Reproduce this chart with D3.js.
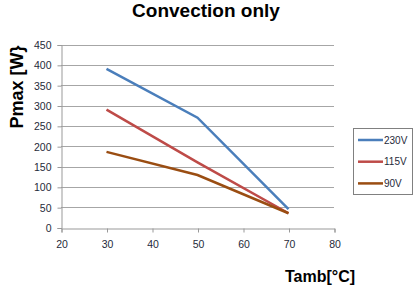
<!DOCTYPE html>
<html lang="en">
<head>
<meta charset="utf-8">
<title>Convection only</title>
<script src="https://cdn.jsdelivr.net/npm/d3@7"></script>
<style>
  body { margin: 0; background: #fff; }
  svg { display: block; }
</style>
</head>
<body>
<script>
// data
var temps = [30, 50, 70];
var p230 = [390, 270, 45];
var p115 = [290, 160, 35];
var p90 = [186, 129, 35];
var seriesNames = ["230V", "115V", "90V"];
var seriesColors = ["#4a7ebb", "#be4b48", "#9a4d12"];
var xTicks = [20, 30, 40, 50, 60, 70, 80];
var yTicks = [0, 50, 100, 150, 200, 250, 300, 350, 400, 450];

var series = [p230, p115, p90];

var svg = d3.select("body").append("svg")
  .attr("width", 414)
  .attr("height", 290);

var x = d3.scaleLinear().domain([20, 80]).range([61, 334]);
var y = d3.scaleLinear().domain([0, 450]).range([227.5, 44.5]);

// title
svg.append("text")
  .attr("x", 206).attr("y", 17)
  .attr("text-anchor", "middle")
  .attr("font-family", "Liberation Sans, Arial, sans-serif")
  .attr("font-weight", "bold")
  .attr("font-size", 19)
  .attr("fill", "#000")
  .text("Convection only");

// gridlines
svg.append("g").selectAll("line")
  .data(yTicks.filter(function(d) { return d > 0; }))
  .enter().append("line")
  .attr("x1", x(20)).attr("x2", x(80))
  .attr("y1", function(d) { return Math.round(y(d)) + 0.5; })
  .attr("y2", function(d) { return Math.round(y(d)) + 0.5; })
  .attr("stroke", "#a6a6a6")
  .attr("stroke-width", 1);

// y axis
var yAxis = svg.append("g")
  .attr("transform", "translate(" + (x(20) + 0.5) + ",0.5)")
  .call(d3.axisLeft(y).tickValues(yTicks).tickSize(4).tickPadding(6));
yAxis.select(".domain").attr("stroke", "#999");
yAxis.selectAll(".tick line").attr("stroke", "#999");
yAxis.selectAll(".tick text")
  .attr("font-family", "Liberation Sans, Arial, sans-serif")
  .attr("font-size", 10.5)
  .attr("fill", "#1f2a3a");

// x axis
var xAxis = svg.append("g")
  .attr("transform", "translate(0.5," + (Math.round(y(0)) + 0.5) + ")")
  .call(d3.axisBottom(x).tickValues(xTicks).tickSize(4).tickPadding(8));
xAxis.select(".domain").attr("stroke", "#999");
xAxis.selectAll(".tick line").attr("stroke", "#999");
xAxis.selectAll(".tick text")
  .attr("font-family", "Liberation Sans, Arial, sans-serif")
  .attr("font-size", 10.5)
  .attr("fill", "#1f2a3a");

// lines
var line = d3.line()
  .x(function(d, i) { return x(temps[i]); })
  .y(function(d) { return y(d); });

svg.append("g").selectAll("path")
  .data(series)
  .enter().append("path")
  .attr("d", line)
  .attr("fill", "none")
  .attr("stroke", function(d, i) { return seriesColors[i]; })
  .attr("stroke-width", 2.5);

// axis titles
svg.append("text")
  .attr("transform", "translate(23,87) rotate(-90)")
  .attr("text-anchor", "middle")
  .attr("font-family", "Liberation Sans, Arial, sans-serif")
  .attr("font-weight", "bold")
  .attr("font-size", 18)
  .text("Pmax [W}");

svg.append("text")
  .attr("x", 320).attr("y", 282)
  .attr("text-anchor", "middle")
  .attr("font-family", "Liberation Sans, Arial, sans-serif")
  .attr("font-weight", "bold")
  .attr("font-size", 16)
  .text("Tamb[°C]");

// legend
var legend = svg.append("g");
legend.append("rect")
  .attr("x", 353.5).attr("y", 128.5)
  .attr("width", 59).attr("height", 66)
  .attr("fill", "#fff")
  .attr("stroke", "#808080");

var item = legend.selectAll(".item")
  .data(seriesNames)
  .enter().append("g")
  .attr("class", "item")
  .attr("transform", function(d, i) { return "translate(0," + (140 + i * 21.7) + ")"; });
item.append("line")
  .attr("x1", 358).attr("x2", 383)
  .attr("stroke", function(d, i) { return seriesColors[i]; })
  .attr("stroke-width", 2.5);
item.append("text")
  .attr("x", 384).attr("y", 3.5)
  .attr("font-family", "Liberation Sans, Arial, sans-serif")
  .attr("font-size", 10)
  .attr("fill", "#1f2a3a")
  .text(function(d) { return d; });
</script>
</body>
</html>
